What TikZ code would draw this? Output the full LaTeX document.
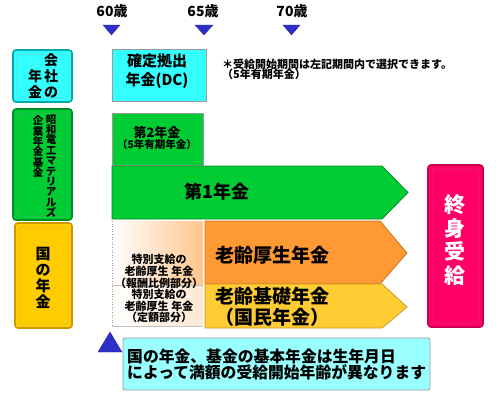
\documentclass[tikz,border=0pt]{standalone}
\usepackage{fontspec}
\setmainfont{Noto Sans CJK JP}
\usetikzlibrary{shadings}
\definecolor{cyanf}{HTML}{33FFFF}
\definecolor{cyand}{HTML}{00AAAA}
\definecolor{greenf}{HTML}{00CC33}
\definecolor{greend}{HTML}{008F26}
\definecolor{yellf}{HTML}{FFCC00}
\definecolor{yelld}{HTML}{C99A00}
\definecolor{pinkf}{HTML}{FF0066}
\definecolor{pinkd}{HTML}{C8004F}
\definecolor{orangef}{HTML}{FF9933}
\definecolor{oranged}{HTML}{C87420}
\definecolor{arryell}{HTML}{FFCC33}
\definecolor{arryelld}{HTML}{C89A20}
\definecolor{lcyan}{HTML}{99FFFF}
\definecolor{tblue}{HTML}{2E2EC8}
\definecolor{greyb}{HTML}{9A9A9A}
\begin{document}
\bfseries
\begin{tikzpicture}[x=1pt,y=-1pt,
  lab/.style={inner sep=0pt, align=center},
  roundbox/.style 2 args={rounded corners=3pt, line width=1.6pt, draw=#1, fill=#2},
  innerline/.style={rounded corners=2pt, line width=0.5pt, draw=#1},
  flatbox/.style={draw=greyb, line width=0.8pt, fill=#1},
  arrowshape/.style 2 args={draw=#1, line width=0.8pt, fill=#2},
  tri/.style={fill=tblue, draw=tblue!70!black, line width=0.3pt}]
\useasboundingbox (0,0) rectangle (500,400);

% age labels and markers
\node[lab, font=\fontsize{14}{14}\selectfont] (a60) at (112,11) {60歳};
\node[lab, font=\fontsize{14}{14}\selectfont] (a65) at (203,11) {65歳};
\node[lab, font=\fontsize{14}{14}\selectfont] (a70) at (292,11) {70歳};
\fill[tri] (103,25) -- (120,25) -- (111.5,35) -- cycle;
\fill[tri] (195,25) -- (213,25) -- (204,35) -- cycle;
\fill[tri] (283,25) -- (300,25) -- (291.5,35) -- cycle;

% left category boxes
\draw[roundbox={cyand}{cyanf}] (13,50) rectangle (72,102);
\draw[innerline=cyand!60] (17,54) rectangle (68,98);
\node[lab, font=\fontsize{14}{16}\selectfont] (kaisha) at (51,76) {会\\社\\の};
\node[lab, font=\fontsize{14}{16}\selectfont] (nenkin1) at (35,84) {年\\金};

\draw[roundbox={greend}{greenf}] (13,109) rectangle (72,220);
\draw[innerline=greend!70] (17,113) rectangle (68,216);
\node[lab, font=\fontsize{10.5}{10.4}\selectfont] (showa) at (51,166) {昭\\和\\電\\工\\マ\\テ\\リ\\ア\\ル\\ズ};
\node[lab, font=\fontsize{10.5}{10.4}\selectfont] (kigyo) at (38,146.5) {企\\業\\年\\金\\基\\金};

\draw[roundbox={yelld}{yellf}] (15,223) rectangle (72,328);
\draw[innerline=yelld!70] (19,227) rectangle (68,324);
\node[lab, font=\fontsize{15}{16}\selectfont] (kuni) at (43,278) {国\\の\\年\\金};

% DC box and note
\draw[flatbox=cyanf] (112,49) rectangle (206,101);
\node[lab, font=\fontsize{15}{19}\selectfont] (dc) at (157,71) {確定拠出\\年金(DC)};
\node[lab, font=\fontsize{11}{11}\selectfont, anchor=west] (note1) at (222,64) {＊受給開始期間は左記期間内で選択できます。};
\node[lab, font=\fontsize{11}{11}\selectfont, anchor=west] (note2) at (222,74) {（5年有期年金）};

% second pension
\draw[flatbox=greenf] (112,113) rectangle (203,165);
\node[lab, font=\fontsize{13}{13}\selectfont] (dai2) at (157,132) {第2年金};
\node[lab, font=\fontsize{10.5}{10.5}\selectfont] (dai2s) at (157,145) {（5年有期年金）};

% first pension arrow
\draw[arrowshape={greend}{greenf}] (112,166) -- (382,166) -- (408,192.5) -- (382,219) -- (112,219) -- cycle;
\node[lab, font=\fontsize{18}{18}\selectfont] (dai1) at (217,192) {第1年金};

% special benefit region
\shade[left color=white, right color=orange!45] (112,221) rectangle (203,285);
\shade[left color=white, right color=orange!18!white] (112,285) rectangle (203,326);
\draw[greyb!60, line width=0.6pt] (112,285) -- (203,285);
\draw[greyb!60, line width=0.6pt] (112,326) -- (203,326);
\draw[greyb, line width=0.6pt, dotted] (112,221) -- (112,327);
\node[lab, font=\fontsize{11}{12}\selectfont] (toku1) at (159,271) {特別支給の\\老齢厚生 年金\\（報酬比例部分）};
\node[lab, font=\fontsize{11}{11.5}\selectfont] (toku2) at (159,306) {特別支給の\\老齢厚生 年金\\（定額部分）};

% orange and yellow arrows
\draw[arrowshape={oranged}{orangef}] (205,221) -- (380,221) -- (407,253) -- (380,284) -- (205,284) -- cycle;
\node[lab, font=\fontsize{19}{19}\selectfont] (kosei) at (272,255) {老齢厚生年金};
\draw[arrowshape={arryelld}{arryell}] (205,284) -- (382,284) -- (407,307) -- (382,328) -- (205,328) -- cycle;
\node[lab, font=\fontsize{19}{21}\selectfont] (kiso) at (272,307) {老齢基礎年金\\（国民年金）};

% lifetime box
\draw[roundbox={pinkd}{pinkf}] (428,165) rectangle (483,327);
\draw[innerline=pinkd!80] (432,169) rectangle (479,323);
\node[lab, font=\fontsize{21}{23.5}\selectfont, text=white] (shushin) at (455,240) {終\\身\\受\\給};

% bottom note
\fill[tri] (98,352) -- (122,352) -- (110,332) -- cycle;
\draw[rounded corners=2pt, draw=greyb, line width=0.8pt, fill=lcyan] (123,338) rectangle (430,390);
\node[lab, align=left, anchor=west, font=\fontsize{15.8}{16.5}\selectfont] (bottom) at (127,364.5) {国の年金、基金の基本年金は生年月日\\によって満額の受給開始年齢が異なります};
\end{tikzpicture}
\end{document}
